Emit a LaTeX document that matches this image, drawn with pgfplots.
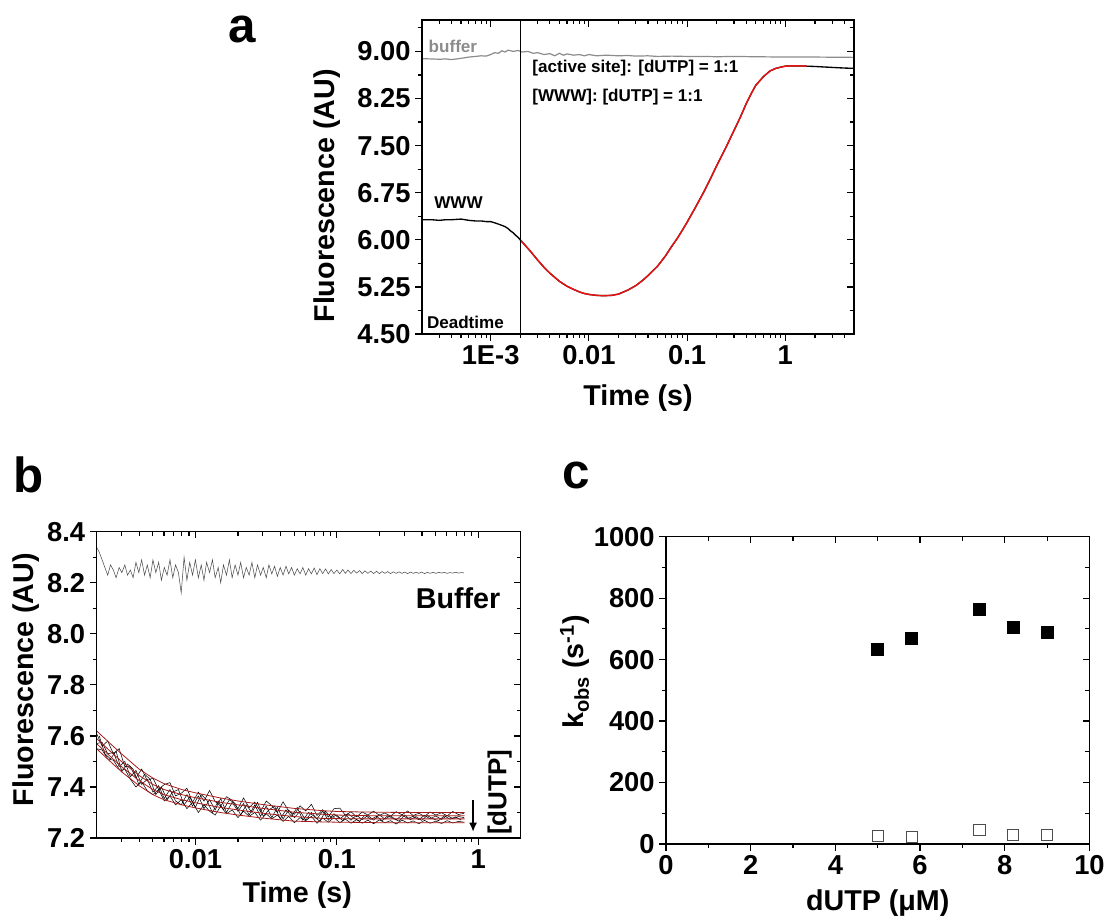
\documentclass[border=0pt]{standalone}
\usepackage{fontspec}
\setmainfont{Liberation Sans}
\usepackage{pgfplots}
\pgfplotsset{compat=1.18}
\usepackage{pgfplotstable}
\usetikzlibrary{arrows.meta}
\definecolor{fitred}{RGB}{232,20,20}
\definecolor{bufgray}{RGB}{140,140,140}
\definecolor{darkfit}{RGB}{170,25,25}
\newcommand{\tlfont}{\fontsize{20.5}{22}\selectfont\bfseries}
\newcommand{\lbfont}{\fontsize{21.5}{24}\selectfont\bfseries}
\newcommand{\anfont}{\fontsize{12.8}{14}\selectfont\bfseries}

\pgfplotstableread{
t y
2e-4 6.32
2.5e-4 6.32
3e-4 6.31
3.5e-4 6.32
4e-4 6.32
5e-4 6.33
6e-4 6.31
7e-4 6.30
8e-4 6.30
9e-4 6.29
1e-3 6.29
1.1e-3 6.27
1.2e-3 6.25
1.3e-3 6.23
1.4e-3 6.21
1.5e-3 6.18
1.6e-3 6.14
1.7e-3 6.11
1.8e-3 6.07
1.9e-3 6.04
2e-3 6.00
0.0025 5.83
0.003 5.68
0.0035 5.56
0.004 5.47
0.005 5.34
0.006 5.26
0.007 5.21
0.008 5.17
0.009 5.145
0.010 5.13
0.012 5.115
0.014 5.11
0.017 5.115
0.020 5.135
0.025 5.20
0.030 5.27
0.035 5.35
0.040 5.43
0.050 5.58
0.060 5.74
0.070 5.90
0.080 6.03
0.090 6.16
0.10 6.28
0.12 6.50
0.15 6.78
0.18 7.03
0.20 7.18
0.25 7.48
0.30 7.74
0.35 7.96
0.40 8.17
0.45 8.33
0.50 8.46
0.60 8.60
0.70 8.69
0.80 8.73
0.90 8.75
1.0 8.765
1.2 8.77
1.4 8.77
1.65 8.765
2 8.76
3 8.745
4 8.735
5 8.73
}\tabWWW

\pgfplotstableread{
t y
0.002 6.00
0.0025 5.83
0.003 5.68
0.0035 5.56
0.004 5.47
0.005 5.34
0.006 5.26
0.007 5.21
0.008 5.17
0.009 5.145
0.010 5.13
0.012 5.115
0.014 5.11
0.017 5.115
0.020 5.135
0.025 5.20
0.030 5.27
0.035 5.35
0.040 5.43
0.050 5.58
0.060 5.74
0.070 5.90
0.080 6.03
0.090 6.16
0.10 6.28
0.12 6.50
0.15 6.78
0.18 7.03
0.20 7.18
0.25 7.48
0.30 7.74
0.35 7.96
0.40 8.17
0.45 8.33
0.50 8.46
0.60 8.60
0.70 8.69
0.80 8.73
0.90 8.75
1.0 8.765
1.2 8.77
1.4 8.77
1.65 8.765
}\tabFitA

\pgfplotstableread{
t y
2e-4 8.885
2.5e-4 8.88
3e-4 8.875
3.5e-4 8.88
4e-4 8.87
4.5e-4 8.88
5e-4 8.89
6e-4 8.91
7e-4 8.92
8e-4 8.93
9e-4 8.925
1e-3 8.95
1.1e-3 8.98
1.2e-3 8.97
1.3e-3 9.01
1.4e-3 8.99
1.5e-3 9.02
1.7e-3 9.00
1.9e-3 9.015
2.1e-3 8.99
2.4e-3 9.00
2.7e-3 8.97
3e-3 8.98
3.5e-3 8.95
4e-3 8.965
4.5e-3 8.93
5e-3 8.97
5.5e-3 8.94
6e-3 8.96
7e-3 8.94
8e-3 8.95
9e-3 8.93
0.01 8.95
0.012 8.93
0.015 8.94
0.02 8.93
0.025 8.935
0.03 8.925
0.04 8.93
0.05 8.92
0.07 8.925
0.1 8.92
0.15 8.92
0.2 8.915
0.3 8.92
0.5 8.915
1 8.91
2 8.91
5 8.905
}\tabBufA

\pgfplotstableread{
t A B C
0.00200 7.61 7.57 7.55
0.00219 7.56 7.575 7.545
0.00240 7.58 7.53 7.51
0.00263 7.53 7.535 7.505
0.00289 7.55 7.48 7.47
0.00317 7.48 7.50 7.47
0.00347 7.48 7.44 7.43
0.00380 7.435 7.465 7.40
0.00417 7.47 7.41 7.42
0.00457 7.425 7.43 7.385
0.00501 7.435 7.38 7.37
0.00550 7.39 7.405 7.39
0.00603 7.41 7.355 7.345
0.00661 7.417 7.39 7.365
0.00724 7.365 7.345 7.33
0.00794 7.375 7.33 7.35
0.00871 7.395 7.37 7.315
0.00955 7.34 7.325 7.34
0.0105 7.38 7.365 7.30
0.0115 7.345 7.315 7.33
0.0126 7.386 7.35 7.305
0.0138 7.343 7.31 7.29
0.0151 7.325 7.355 7.325
0.0166 7.362 7.30 7.295
0.0182 7.348 7.34 7.31
0.0200 7.315 7.305 7.28
0.0219 7.357 7.335 7.305
0.0240 7.319 7.29 7.285
0.0263 7.341 7.33 7.30
0.0289 7.303 7.285 7.27
0.0317 7.345 7.325 7.295
0.0347 7.327 7.28 7.275
0.0380 7.30 7.32 7.29
0.0417 7.342 7.275 7.265
0.0457 7.305 7.31 7.285
0.0501 7.293 7.28 7.26
0.0550 7.326 7.305 7.28
0.0603 7.306 7.27 7.268
0.0661 7.332 7.30 7.285
0.0724 7.288 7.275 7.258
0.0794 7.311 7.305 7.278
0.0871 7.282 7.27 7.262
0.0955 7.315 7.295 7.28
0.105 7.317 7.275 7.26
0.115 7.289 7.292 7.274
0.126 7.303 7.27 7.258
0.138 7.283 7.29 7.272
0.151 7.302 7.272 7.258
0.166 7.29 7.288 7.27
0.182 7.305 7.27 7.256
0.200 7.289 7.291 7.271
0.219 7.298 7.274 7.26
0.240 7.286 7.287 7.268
0.263 7.303 7.271 7.255
0.289 7.291 7.29 7.27
0.317 7.306 7.276 7.259
0.347 7.288 7.285 7.267
0.380 7.297 7.272 7.256
0.417 7.285 7.289 7.269
0.457 7.302 7.275 7.258
0.501 7.29 7.286 7.266
0.550 7.299 7.273 7.257
0.603 7.287 7.288 7.268
0.661 7.304 7.276 7.259
0.724 7.292 7.284 7.265
0.794 7.297 7.28 7.262
}\tabB

\pgfplotstableread{
t D
0.00209 7.60
0.00229 7.53
0.00251 7.51
0.00275 7.54
0.00302 7.46
0.00331 7.49
0.00363 7.47
0.00398 7.41
0.00437 7.45
0.00479 7.43
0.00525 7.37
0.00575 7.40
0.00631 7.35
0.00692 7.38
0.00759 7.39
0.00832 7.33
0.00912 7.36
0.0100 7.32
0.0110 7.37
0.0120 7.35
0.0132 7.30
0.0145 7.345
0.0158 7.31
0.0174 7.35
0.0191 7.335
0.0209 7.29
0.0229 7.33
0.0251 7.30
0.0275 7.34
0.0302 7.285
0.0331 7.31
0.0363 7.325
0.0398 7.275
0.0437 7.31
0.0479 7.285
0.0525 7.32
0.0575 7.27
0.0631 7.30
0.0692 7.285
0.0759 7.265
0.0832 7.305
0.0912 7.28
0.100 7.29
0.110 7.268
0.120 7.295
0.132 7.278
0.145 7.266
0.158 7.29
0.174 7.273
0.191 7.285
0.209 7.268
0.229 7.287
0.251 7.276
0.275 7.266
0.302 7.29
0.331 7.272
0.363 7.284
0.398 7.269
0.437 7.288
0.479 7.275
0.525 7.268
0.575 7.287
0.631 7.274
0.692 7.283
0.759 7.27
}\tabD

\pgfplotstableread{
t y
0.00200 8.34
0.00209 8.32
0.00219 8.29
0.00229 8.26
0.00240 8.23
0.00251 8.27
0.00263 8.25
0.00275 8.22
0.00289 8.26
0.00302 8.24
0.00317 8.27
0.00331 8.23
0.00347 8.25
0.00363 8.22
0.00380 8.28
0.00398 8.24
0.00417 8.29
0.00437 8.23
0.00457 8.27
0.00479 8.22
0.00501 8.29
0.00525 8.24
0.00550 8.28
0.00575 8.21
0.00603 8.26
0.00631 8.23
0.00661 8.29
0.00692 8.22
0.00724 8.27
0.00759 8.24
0.00794 8.16
0.00832 8.30
0.00871 8.21
0.00912 8.28
0.00955 8.23
0.0100 8.29
0.0105 8.22
0.0110 8.27
0.0115 8.21
0.0120 8.28
0.0126 8.24
0.0132 8.29
0.0138 8.22
0.0145 8.26
0.0151 8.20
0.0158 8.27
0.0166 8.23
0.0174 8.29
0.0182 8.22
0.0191 8.27
0.0200 8.23
0.0209 8.28
0.0219 8.22
0.0229 8.26
0.0240 8.23
0.0251 8.28
0.0263 8.22
0.0275 8.27
0.0289 8.23
0.0302 8.26
0.0317 8.22
0.0331 8.27
0.0347 8.235
0.0363 8.265
0.0380 8.225
0.0398 8.26
0.0417 8.23
0.0437 8.265
0.0457 8.235
0.0479 8.26
0.0501 8.23
0.0525 8.255
0.0550 8.235
0.0575 8.26
0.0603 8.23
0.0631 8.255
0.0661 8.235
0.0692 8.258
0.0724 8.232
0.0759 8.255
0.0794 8.236
0.0832 8.254
0.0871 8.235
0.0912 8.252
0.0955 8.236
0.100 8.25
0.105 8.235
0.110 8.252
0.115 8.237
0.120 8.25
0.126 8.236
0.132 8.249
0.138 8.238
0.145 8.248
0.151 8.236
0.158 8.247
0.166 8.237
0.174 8.246
0.182 8.236
0.191 8.245
0.200 8.236
0.209 8.244
0.219 8.237
0.229 8.244
0.240 8.236
0.251 8.243
0.263 8.237
0.275 8.243
0.289 8.237
0.302 8.242
0.317 8.236
0.331 8.242
0.347 8.237
0.363 8.241
0.380 8.237
0.398 8.242
0.417 8.236
0.437 8.241
0.457 8.237
0.479 8.241
0.501 8.237
0.525 8.241
0.550 8.238
0.575 8.241
0.603 8.237
0.631 8.24
0.661 8.238
0.692 8.241
0.724 8.238
0.759 8.24
0.794 8.239
}\tabBufB

\pgfplotstableread{
t f1 f2 f3 f4
0.002 7.62 7.59 7.57 7.55
0.0025 7.57 7.54 7.52 7.50
0.003 7.53 7.50 7.48 7.46
0.004 7.47 7.445 7.425 7.405
0.005 7.435 7.41 7.39 7.37
0.006 7.413 7.39 7.37 7.35
0.008 7.39 7.37 7.35 7.33
0.01 7.377 7.358 7.338 7.318
0.015 7.357 7.34 7.32 7.30
0.02 7.345 7.33 7.31 7.29
0.03 7.331 7.316 7.297 7.278
0.05 7.316 7.301 7.284 7.266
0.08 7.307 7.293 7.277 7.263
0.1 7.304 7.29 7.276 7.262
0.15 7.302 7.288 7.275 7.261
0.2 7.301 7.287 7.275 7.26
0.3 7.30 7.287 7.275 7.26
0.5 7.30 7.287 7.275 7.26
0.8 7.30 7.287 7.275 7.26
}\tabFitB

\pgfplotstableread{
x k
5.0 633
5.8 669
7.4 764
8.2 705
9.0 688
}\tabCfilled

\pgfplotstableread{
x k
5.0 27
5.8 24
7.4 46
8.2 29
9.0 29
}\tabCopen

\pgfplotsset{
  basestyle/.style={
    scale only axis, anchor=south west,
    axis line style={line width=0.9pt},
    every tick/.style={line width=0.9pt, black},
    major tick length=5pt, minor tick length=3pt,
    tick label style={font=\tlfont},
    label style={font=\lbfont},
    clip=false,
  },
  mainstyle/.style={basestyle, tick align=outside, xtick pos=left, ytick pos=left},
  mirrorstyle/.style={basestyle, tick align=inside, xtick pos=right, ytick pos=right,
    xticklabel={\mbox{}}, yticklabel={\mbox{}}},
}

\begin{document}
\begin{tikzpicture}
\useasboundingbox (0,0) rectangle (831pt,-688.5pt);

% ---------------- panel a ----------------
\begin{axis}[mainstyle, xmode=log,
  at={(316.5pt,-250.5pt)}, width=324pt, height=235.5pt,
  xmin=2e-4, xmax=5, ymin=4.5, ymax=9.5,
  xtick={0.001,0.01,0.1,1},
  minor xtick={0.0003,0.0004,0.0005,0.0006,0.0007,0.0008,0.0009,0.002,0.003,0.004,0.005,0.006,0.007,0.008,0.009,0.02,0.03,0.04,0.05,0.06,0.07,0.08,0.09,0.2,0.3,0.4,0.5,0.6,0.7,0.8,0.9,2,3,4},
  ytick={4.5,5.25,6,6.75,7.5,8.25,9},
  minor ytick={4.875,5.625,6.375,7.125,7.875,8.625,9.375},
  xticklabels={\textbf{1E-3},\textbf{0.01},\textbf{0.1},\textbf{1}},
  yticklabels={\textbf{4.50},\textbf{5.25},\textbf{6.00},\textbf{6.75},\textbf{7.50},\textbf{8.25},\textbf{9.00}},
  xlabel={Time (s)}, ylabel={Fluorescence (AU)},
  xlabel style={at={(axis description cs:0.5,-0.204)}, anchor=center},
  ylabel style={at={(axis description cs:-0.22,0.44)}, anchor=center},
]
\addplot[bufgray, line width=0.9pt] table[x=t,y=y] {\tabBufA};
\addplot[black, line width=1pt] table[x=t,y=y] {\tabWWW};
\addplot[fitred, line width=1.1pt] table[x=t,y=y] {\tabFitA};
\addplot[black, line width=0.7pt] coordinates {(0.002,4.5) (0.002,9.5)};
\node[anchor=west, text=bufgray, font=\anfont, inner sep=0pt] at (rel axis cs:0.015,0.917) {buffer};
\node[anchor=west, font=\anfont, inner sep=0pt] at (rel axis cs:0.028,0.417) {WWW};
\node[anchor=west, font=\anfont, inner sep=0pt] at (rel axis cs:0.011,0.038) {Deadtime};
\node[anchor=west, font=\anfont, inner sep=0pt] at (rel axis cs:0.255,0.847) {[active site]: [dUTP] = 1:1};
\node[anchor=west, font=\anfont, inner sep=0pt] at (rel axis cs:0.255,0.755) {[WWW]: [dUTP] = 1:1};
\end{axis}
\begin{axis}[mirrorstyle, xmode=log,
  at={(316.5pt,-250.5pt)}, width=324pt, height=235.5pt,
  xmin=2e-4, xmax=5, ymin=4.5, ymax=9.5,
  xtick={0.001,0.01,0.1,1},
  minor xtick={0.0003,0.0004,0.0005,0.0006,0.0007,0.0008,0.0009,0.002,0.003,0.004,0.005,0.006,0.007,0.008,0.009,0.02,0.03,0.04,0.05,0.06,0.07,0.08,0.09,0.2,0.3,0.4,0.5,0.6,0.7,0.8,0.9,2,3,4},
  ytick={4.5,5.25,6,6.75,7.5,8.25,9},
  minor ytick={4.875,5.625,6.375,7.125,7.875,8.625,9.375}]
\addplot[draw=none] coordinates {(1,5)};
\end{axis}

% ---------------- panel b ----------------
\begin{axis}[mainstyle, xmode=log,
  at={(72.4pt,-628.5pt)}, width=318.2pt, height=229.7pt,
  xmin=0.002, xmax=2, ymin=7.2, ymax=8.4,
  xtick={0.01,0.1,1},
  minor xtick={0.003,0.004,0.005,0.006,0.007,0.008,0.009,0.02,0.03,0.04,0.05,0.06,0.07,0.08,0.09,0.2,0.3,0.4,0.5,0.6,0.7,0.8,0.9},
  ytick={7.2,7.4,7.6,7.8,8.0,8.2,8.4},
  minor ytick={7.3,7.5,7.7,7.9,8.1,8.3},
  xticklabels={\textbf{0.01},\textbf{0.1},\textbf{1}},
  yticklabels={\textbf{7.2},\textbf{7.4},\textbf{7.6},\textbf{7.8},\textbf{8.0},\textbf{8.2},\textbf{8.4}},
  xlabel={Time (s)}, ylabel={Fluorescence (AU)},
  xlabel style={at={(axis description cs:0.473,-0.186)}, anchor=center},
  ylabel style={at={(axis description cs:-0.166,0.517)}, anchor=center},
]
\addplot[black!70, line width=0.4pt] table[x=t,y=y] {\tabBufB};
\addplot[black, line width=0.4pt] table[x=t,y=A] {\tabB};
\addplot[black, line width=0.4pt] table[x=t,y=B] {\tabB};
\addplot[black, line width=0.4pt] table[x=t,y=C] {\tabB};
\addplot[black, line width=0.4pt] table[x=t,y=D] {\tabD};
\addplot[darkfit, line width=0.6pt] table[x=t,y=f1] {\tabFitB};
\addplot[darkfit, line width=0.6pt] table[x=t,y=f2] {\tabFitB};
\addplot[darkfit, line width=0.6pt] table[x=t,y=f3] {\tabFitB};
\addplot[darkfit, line width=0.6pt] table[x=t,y=f4] {\tabFitB};
\node[anchor=west, font=\fontsize{21.5}{24}\selectfont\bfseries, inner sep=0pt] at (rel axis cs:0.752,0.784) {Buffer};
\node[rotate=90, font=\fontsize{19.5}{22}\selectfont\bfseries, inner sep=0pt] at (rel axis cs:0.95,0.15) {[dUTP]};
\draw[line width=1.2pt, -{Latex[length=7pt,width=6pt]}] (rel axis cs:0.8875,0.124) -- (rel axis cs:0.8875,0.02);
\end{axis}
\begin{axis}[mirrorstyle, xmode=log,
  at={(72.4pt,-628.5pt)}, width=318.2pt, height=229.7pt,
  xmin=0.002, xmax=2, ymin=7.2, ymax=8.4,
  xtick={0.01,0.1,1},
  minor xtick={0.003,0.004,0.005,0.006,0.007,0.008,0.009,0.02,0.03,0.04,0.05,0.06,0.07,0.08,0.09,0.2,0.3,0.4,0.5,0.6,0.7,0.8,0.9},
  ytick={7.2,7.4,7.6,7.8,8.0,8.2,8.4},
  minor ytick={7.3,7.5,7.7,7.9,8.1,8.3}]
\addplot[draw=none] coordinates {(0.1,7.5)};
\end{axis}

% ---------------- panel c ----------------
\begin{axis}[mainstyle,
  at={(499.5pt,-633pt)}, width=317.6pt, height=230.5pt,
  xmin=0, xmax=10, ymin=0, ymax=1000,
  xtick={0,2,4,6,8,10}, minor xtick={1,3,5,7,9},
  ytick={0,200,400,600,800,1000}, minor ytick={100,300,500,700,900},
  xticklabels={\textbf{0},\textbf{2},\textbf{4},\textbf{6},\textbf{8},\textbf{10}},
  yticklabels={\textbf{0},\textbf{200},\textbf{400},\textbf{600},\textbf{800},\textbf{1000}},
  xlabel={dUTP (μM)}, ylabel={k\textsubscript{obs} (s\textsuperscript{-1})},
  xlabel style={at={(axis description cs:0.5,-0.192)}, anchor=center},
  ylabel style={at={(axis description cs:-0.215,0.56)}, anchor=center},
]
\addplot[only marks, mark=square*, mark size=4.5pt, mark options={fill=black, draw=black}] table[x=x,y=k] {\tabCfilled};
\addplot[only marks, mark=square, mark size=4.2pt, mark options={draw=black!70, line width=0.6pt}] table[x=x,y=k] {\tabCopen};
\end{axis}
\begin{axis}[mirrorstyle,
  at={(499.5pt,-633pt)}, width=317.6pt, height=230.5pt,
  xmin=0, xmax=10, ymin=0, ymax=1000,
  xtick={0,2,4,6,8,10}, minor xtick={1,3,5,7,9},
  ytick={0,200,400,600,800,1000}, minor ytick={100,300,500,700,900}]
\addplot[draw=none] coordinates {(5,500)};
\end{axis}

% panel letters
\node[anchor=base west, inner sep=0pt, font=\fontsize{37}{40}\selectfont\bfseries] at (171pt,-31.5pt) {a};
\node[anchor=base west, inner sep=0pt, font=\fontsize{37}{40}\selectfont\bfseries] at (9.75pt,-369pt) {b};
\node[anchor=base west, inner sep=0pt, font=\fontsize{37}{40}\selectfont\bfseries] at (421.5pt,-366pt) {c};
\end{tikzpicture}
\end{document}
